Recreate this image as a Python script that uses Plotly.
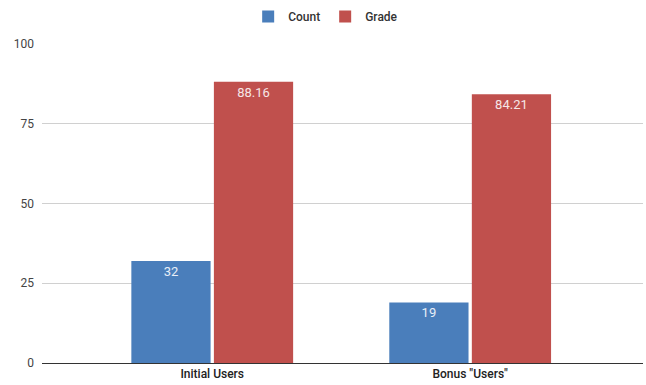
import plotly.graph_objects as go

categories = ["Initial Users", "Bonus \"Users\""]
count_values = [32, 19]
grade_values = [88.16, 84.21]
y_ticks = [0, 25, 50, 75, 100]

fig = go.Figure()
fig.add_trace(go.Bar(
    name="Count", x=categories, y=count_values,
    marker=dict(color="#4a7ebb", line=dict(width=0)),
    text=[str(v) for v in count_values], textposition="inside",
    insidetextanchor="end", textfont=dict(color="#e8eef8", size=13, family="Roboto"),
))
fig.add_trace(go.Bar(
    name="Grade", x=categories, y=grade_values,
    marker=dict(color="#c0504d", line=dict(width=0)),
    text=[f"{v:.2f}" for v in grade_values], textposition="inside",
    insidetextanchor="end", textfont=dict(color="#f6e6e6", size=13, family="Roboto"),
))

fig.update_layout(
    width=646, height=385,
    margin=dict(l=42, r=3, t=44, b=22),
    paper_bgcolor="white", plot_bgcolor="white",
    barmode="group", bargap=0.36, bargroupgap=0.04,
    font=dict(family="Roboto", size=12, color="#222222"),
    legend=dict(orientation="h", x=0.472, xanchor="center", y=0.995, yanchor="top",
                yref="container", font=dict(size=12, color="#333333", weight=500),
                itemwidth=30, traceorder="normal"),
    showlegend=True,
)
fig.update_xaxes(range=[-0.66, 1.67], showgrid=False, showline=True,
                 linecolor="#333333", linewidth=1, ticks="",
                 tickfont=dict(size=12, color="#222222", weight=500))
fig.update_yaxes(range=[0, 100], tickvals=y_ticks, showgrid=True,
                 gridcolor="#d0d0d0", gridwidth=1, zeroline=False,
                 ticks="", tickfont=dict(size=12, color="#444444"), ticklabelstandoff=7)

fig.write_html("out.html")
